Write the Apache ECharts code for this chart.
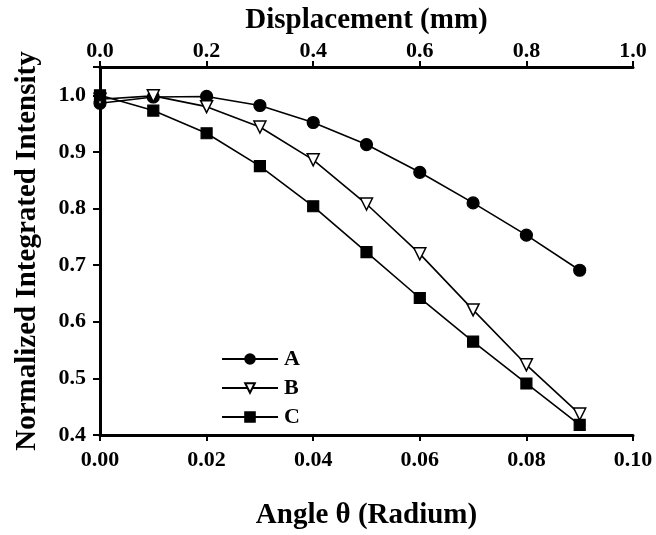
<!DOCTYPE html>
<html>
<head>
<meta charset="utf-8">
<script src="https://cdn.jsdelivr.net/npm/echarts@6/dist/echarts.min.js"></script>
<style>html,body{margin:0;padding:0;background:#fff;}#c{width:656px;height:535px;}</style>
</head>
<body>
<div id="c"></div>
<script>
const angles = [0.00, 0.01, 0.02, 0.03, 0.04, 0.05, 0.06, 0.07, 0.08, 0.09];
const seriesA = [0.986, 0.997, 0.998, 0.982, 0.952, 0.913, 0.864, 0.810, 0.753, 0.691];
const seriesB = [0.993, 0.999, 0.980, 0.944, 0.886, 0.808, 0.720, 0.621, 0.524, 0.437];
const seriesC = [1.000, 0.973, 0.933, 0.875, 0.804, 0.723, 0.642, 0.565, 0.491, 0.418];
const seriesNames = ['A', 'B', 'C'];

const FONT = '"Liberation Serif", "DejaVu Serif", serif';
const pair = (vals) => angles.map((x, i) => [x, vals[i]]);

const chart = echarts.init(document.getElementById('c'), null, {renderer: 'canvas'});
const axisLine = {show: true, lineStyle: {color: '#000', width: 3}};
const labelStyle = {color: '#000', fontFamily: FONT, fontWeight: 'bold', fontSize: 22};
const nameStyle = {color: '#000', fontFamily: FONT, fontWeight: 'bold', fontSize: 29};

const lineSeries = (name, vals, symbol, extra) => Object.assign({
  name: name,
  type: 'line',
  data: pair(vals),
  symbol: symbol,
  symbolSize: 12,
  lineStyle: {color: '#000', width: 1.6},
  itemStyle: {color: '#000', borderColor: '#000', borderWidth: 1.2},
  emphasis: {disabled: true},
  animation: false
}, extra || {});

chart.setOption({
  backgroundColor: '#fff',
  animation: false,
  grid: {left: 100, right: 23, top: 67, bottom: 93},
  legend: {
    left: 216, top: 343, orient: 'vertical',
    itemWidth: 56, itemHeight: 12, itemGap: 7,
    textStyle: {color: '#000', fontFamily: FONT, fontWeight: 'bold', fontSize: 22, padding: [0, 0, 0, 1]},
    data: seriesNames
  },
  xAxis: [
    {
      type: 'value', position: 'bottom', min: 0, max: 0.1, interval: 0.02,
      name: 'Angle θ (Radium)', nameLocation: 'middle', nameGap: 66,
      nameTextStyle: nameStyle,
      axisLine: axisLine,
      axisTick: {show: true, inside: false, length: 6, lineStyle: {color: '#000', width: 2}},
      axisLabel: Object.assign({margin: 14, formatter: v => v.toFixed(2)}, labelStyle),
      splitLine: {show: false}
    },
    {
      type: 'value', position: 'top', min: 0, max: 1.0, interval: 0.2,
      name: 'Displacement (mm)', nameLocation: 'middle', nameGap: 26,
      nameTextStyle: nameStyle,
      axisLine: axisLine,
      axisTick: {show: true, inside: false, length: 6, lineStyle: {color: '#000', width: 2}},
      axisLabel: Object.assign({margin: 5, formatter: v => v.toFixed(1)}, labelStyle),
      splitLine: {show: false}
    }
  ],
  yAxis: [
    {
      type: 'value', position: 'left', min: 0.4, max: 1.05, interval: 0.1,
      name: 'Normalized Integrated Intensity', nameLocation: 'middle', nameGap: 58,
      nameTextStyle: nameStyle,
      axisLine: axisLine,
      axisTick: {show: true, inside: false, length: 7, lineStyle: {color: '#000', width: 2}},
      axisLabel: Object.assign({margin: 14, formatter: v => (v > 1.001 ? '' : v.toFixed(1))}, labelStyle),
      splitLine: {show: false}
    },
    {
      type: 'value', position: 'right', min: 0.4, max: 1.05,
      axisLine: axisLine, axisTick: {show: false}, axisLabel: {show: false}, splitLine: {show: false}
    }
  ],
  series: [
    lineSeries('A', seriesA, 'circle'),
    lineSeries('B', seriesB, 'triangle', {symbolRotate: 180, itemStyle: {color: '#fff', borderColor: '#000', borderWidth: 1.5}}),
    lineSeries('C', seriesC, 'rect', {symbolSize: 11})
  ]
});
</script>
</body>
</html>
